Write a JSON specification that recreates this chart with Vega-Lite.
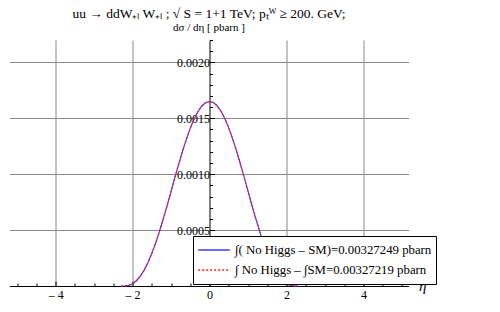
{
  "$schema": "https://vega.github.io/schema/vega-lite/v6.json",
  "width": 399,
  "height": 246,
  "autosize": {"type": "none"},
  "padding": {"left": 9.5, "top": 40, "right": 91.5, "bottom": 26},
  "background": "white",
  "config": {"view": {"stroke": null}, "font": "Liberation Serif"},
  "title": {
    "text": "uu → ddW₊ₗ W₊ₗ ; √ S  = 1+1  TeV;  pₜᵂ ≥ 200.  GeV;",
    "subtitle": "dσ / dη [ pbarn ]",
    "font": "Liberation Serif",
    "fontSize": 13.5,
    "fontWeight": "normal",
    "subtitleFont": "Liberation Serif",
    "subtitleFontSize": 11,
    "anchor": "middle",
    "offset": 1,
    "subtitlePadding": 2,
    "color": "black",
    "subtitleColor": "black"
  },
  "data": {
    "values": [
      {"eta": -2.3, "nh": 0, "sm": 0},
      {"eta": -2.2, "nh": 0.0000004, "sm": 0.0000004},
      {"eta": -2.1, "nh": 0.0000058, "sm": 0.0000058},
      {"eta": -2.0, "nh": 0.0000207, "sm": 0.0000207},
      {"eta": -1.9, "nh": 0.0000475, "sm": 0.0000475},
      {"eta": -1.8, "nh": 0.0000876, "sm": 0.0000876},
      {"eta": -1.7, "nh": 0.000142, "sm": 0.000142},
      {"eta": -1.6, "nh": 0.000210, "sm": 0.000210},
      {"eta": -1.5, "nh": 0.000292, "sm": 0.000292},
      {"eta": -1.4, "nh": 0.000386, "sm": 0.000386},
      {"eta": -1.3, "nh": 0.000491, "sm": 0.000491},
      {"eta": -1.2, "nh": 0.000604, "sm": 0.000604},
      {"eta": -1.1, "nh": 0.000724, "sm": 0.000724},
      {"eta": -1.0, "nh": 0.000847, "sm": 0.000847},
      {"eta": -0.9, "nh": 0.000971, "sm": 0.000971},
      {"eta": -0.8, "nh": 0.001093, "sm": 0.001093},
      {"eta": -0.7, "nh": 0.001209, "sm": 0.001209},
      {"eta": -0.6, "nh": 0.001316, "sm": 0.001316},
      {"eta": -0.5, "nh": 0.001412, "sm": 0.001412},
      {"eta": -0.4, "nh": 0.001495, "sm": 0.001495},
      {"eta": -0.3, "nh": 0.001561, "sm": 0.001561},
      {"eta": -0.2, "nh": 0.001610, "sm": 0.001610},
      {"eta": -0.1, "nh": 0.001640, "sm": 0.001640},
      {"eta": 0.0, "nh": 0.001650, "sm": 0.001650},
      {"eta": 0.1, "nh": 0.001640, "sm": 0.001640},
      {"eta": 0.2, "nh": 0.001610, "sm": 0.001610},
      {"eta": 0.3, "nh": 0.001561, "sm": 0.001561},
      {"eta": 0.4, "nh": 0.001495, "sm": 0.001495},
      {"eta": 0.5, "nh": 0.001412, "sm": 0.001412},
      {"eta": 0.6, "nh": 0.001316, "sm": 0.001316},
      {"eta": 0.7, "nh": 0.001209, "sm": 0.001209},
      {"eta": 0.8, "nh": 0.001093, "sm": 0.001093},
      {"eta": 0.9, "nh": 0.000971, "sm": 0.000971},
      {"eta": 1.0, "nh": 0.000847, "sm": 0.000847},
      {"eta": 1.1, "nh": 0.000724, "sm": 0.000724},
      {"eta": 1.2, "nh": 0.000604, "sm": 0.000604},
      {"eta": 1.3, "nh": 0.000491, "sm": 0.000491},
      {"eta": 1.4, "nh": 0.000386, "sm": 0.000386},
      {"eta": 1.5, "nh": 0.000292, "sm": 0.000292},
      {"eta": 1.6, "nh": 0.000210, "sm": 0.000210},
      {"eta": 1.7, "nh": 0.000142, "sm": 0.000142},
      {"eta": 1.8, "nh": 0.0000876, "sm": 0.0000876},
      {"eta": 1.9, "nh": 0.0000475, "sm": 0.0000475},
      {"eta": 2.0, "nh": 0.0000207, "sm": 0.0000207},
      {"eta": 2.1, "nh": 0.0000058, "sm": 0.0000058},
      {"eta": 2.2, "nh": 0.0000004, "sm": 0.0000004},
      {"eta": 2.3, "nh": 0, "sm": 0}
    ]
  },
  "transform": [{"fold": ["nh", "sm"], "as": ["series", "val"]}],
  "encoding": {
    "x": {
      "field": "eta",
      "type": "quantitative",
      "scale": {"domain": [-5.2, 5.17], "nice": false, "zero": false},
      "axis": {
        "values": [-5, -4.5, -4, -3.5, -3, -2.5, -2, -1.5, -1, -0.5, 0, 0.5, 1, 1.5, 2, 2.5, 3, 3.5, 4, 4.5, 5],
        "domainColor": "black",
        "tickColor": "black",
        "tickSize": {"condition": {"test": "round(datum.value*2)%4==0", "value": -5}, "value": -3},
        "labelExpr": "round(datum.value*2)%4==0 ? (datum.value<0 ? '– '+abs(datum.value) : ''+datum.value) : ''",
        "labelFont": "Liberation Serif",
        "labelFontSize": 12,
        "labelColor": "black",
        "labelPadding": 8,
        "labelFlush": false,
        "labelOverlap": false,
        "grid": true,
        "gridColor": {"condition": {"test": "round(datum.value*2)%4==0 && datum.value!=0", "value": "#8a8a8a"}, "value": "rgba(0,0,0,0)"},
        "title": "η",
        "titleFont": "Liberation Serif",
        "titleFontStyle": "italic",
        "titleFontWeight": "normal",
        "titleFontSize": 15,
        "titleColor": "black",
        "titleAlign": "left",
        "titleBaseline": "middle",
        "titleX": 409,
        "titleY": -1
      }
    },
    "y": {
      "field": "val",
      "type": "quantitative",
      "scale": {"domain": [0, 0.0022], "nice": false},
      "axis": {
        "values": [0.0001, 0.0002, 0.0003, 0.0004, 0.0005, 0.0006, 0.0007, 0.0008, 0.0009, 0.001, 0.0011, 0.0012, 0.0013, 0.0014, 0.0015, 0.0016, 0.0017, 0.0018, 0.0019, 0.002, 0.0021, 0.0022],
        "offset": -200,
        "domainColor": "black",
        "tickColor": "black",
        "tickSize": {"condition": {"test": "round(datum.value*10000)%5==0", "value": -5}, "value": -3},
        "labelExpr": "round(datum.value*10000)%5==0 ? format(datum.value, '.4f') : ''",
        "labelFont": "Liberation Serif",
        "labelFontSize": 12,
        "labelColor": "black",
        "labelPadding": 5,
        "labelFlush": false,
        "labelOverlap": false,
        "grid": true,
        "gridColor": {"condition": {"test": "round(datum.value*10000)%5==0", "value": "#8a8a8a"}, "value": "rgba(0,0,0,0)"},
        "title": null
      }
    },
    "color": {
      "field": "series",
      "type": "nominal",
      "scale": {"domain": ["nh", "sm"], "range": ["#3a3aff", "#ff1a1a"]},
      "legend": {
        "orient": "none",
        "legendX": 183.5,
        "legendY": 196,
        "title": null,
        "fillColor": "white",
        "strokeColor": "black",
        "padding": 4,
        "symbolType": "stroke",
        "symbolSize": 1000,
        "symbolStrokeWidth": 1.5,
        "clipHeight": 20,
        "labelFont": "Liberation Serif",
        "labelFontSize": 12.8,
        "labelColor": "black",
        "labelLimit": 400,
        "rowPadding": 0,
        "labelExpr": "datum.label == 'nh' ? '∫( No Higgs – SM)=0.00327249 pbarn' : '∫ No Higgs – ∫SM=0.00327219 pbarn'",
        "encode": {"symbols": {"update": {"strokeDash": {"signal": "datum.value == 'sm' ? [2, 2] : [1, 0]"}}}}
      }
    }
  },
  "layer": [
    {
      "transform": [{"filter": "datum.series == 'nh'"}],
      "mark": {"type": "line", "strokeWidth": 1.2}
    },
    {
      "transform": [{"filter": "datum.series == 'sm'"}],
      "mark": {"type": "line", "strokeWidth": 1.2, "strokeDash": [2, 2]}
    }
  ]
}
